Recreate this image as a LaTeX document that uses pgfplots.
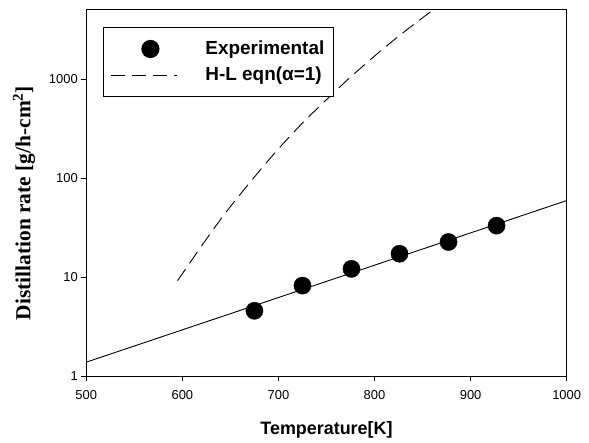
\documentclass[border=0pt]{standalone}
\usepackage{fontspec}
\setmainfont{Liberation Serif}
\setsansfont{Liberation Sans}
\usepackage{pgfplots}
\pgfplotsset{compat=1.18}

% legend symbols of a fixed width
\pgfplotsset{
  dot legend/.style={legend image code/.code={%
    \path (0bp,0bp) (66bp,0bp);
    \draw[##1] plot coordinates {(39.5bp,0bp)};}},
  dash legend/.style={legend image code/.code={%
    \draw[##1] (0bp,0bp) -- (66bp,0bp);}},
}

\begin{document}
\begin{tikzpicture}
\begin{axis}[
  at={(0,0)}, anchor=south west,
  scale only axis,
  width=480.4bp, height=366bp,
  xmin=500, xmax=1000,
  ymode=log, log basis y=10,
  ymin=1, ymax=5000,
  xtick={500,600,...,1000},
  ytick={1,10,100,1000},
  yticklabels={1,10,100,1000},
  yminorticks=false,
  tick align=outside,
  major tick length=5bp,
  tick pos=left,
  axis line style={line width=1bp},
  major tick style={line width=0.9bp, black},
  /pgf/number format/assume math mode=true,
  /pgf/number format/1000 sep={},
  ticklabel style={font=\fontsize{13}{15}\selectfont\sffamily},
  xticklabel style={yshift=-6bp},
  xlabel={Temperature[K]},
  xlabel style={font=\fontsize{18}{20}\selectfont\sffamily\bfseries, yshift=-15bp},
  ylabel={Distillation rate [g/h-cm\textsuperscript{2}]},
  ylabel style={font=\fontsize{21.5}{24}\selectfont\rmfamily\bfseries,
    xshift=-10bp, yshift=7bp},
  legend cell align=left,
  legend style={
    at={(rel axis cs:0.0346,0.9536)}, anchor=north west,
    draw=black, line width=1bp,
    font=\fontsize{19}{21}\selectfont\sffamily\bfseries,
    inner xsep=7bp, inner ysep=8.5bp, row sep=0bp,
    nodes={text height=17bp, text depth=5bp, inner ysep=2bp},
    /tikz/every odd column/.append style={column sep=26bp},
  },
]
% measured distillation rates
\addplot[only marks, mark=*, mark size=8.6bp, black, dot legend]
  coordinates {(675,4.56) (725,8.2) (776,12.1) (826,17.2) (877,22.6) (927,33.1)};
\addlegendentry{Experimental}
% Hertz--Langmuir prediction with unit evaporation coefficient
\addplot[black, line width=0.9bp, dash pattern=on 14bp off 7bp, smooth, dash legend]
  coordinates {(595,9.2) (622,22) (646,46) (674,100) (698,188) (722,336)
               (741,512) (773,1008) (806,1918) (835,3235) (862,5100)};
\addlegendentry{H-L eqn(α=1)}
% exponential fit through the measurements
\addplot[black, line width=0.9bp, forget plot]
  coordinates {(500,1.38) (1000,59.3)};
\end{axis}
\pgfresetboundingbox
\path (-86.3bp,-67bp) rectangle (502.7bp,376bp);
\end{tikzpicture}
\end{document}
